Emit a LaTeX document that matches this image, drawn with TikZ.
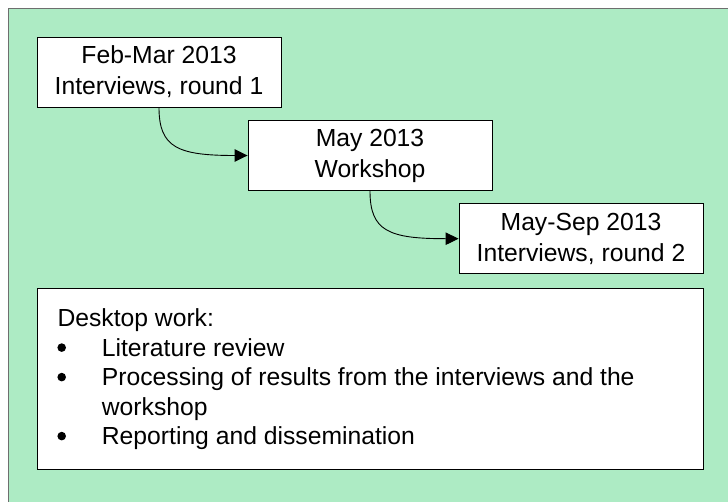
\documentclass[tikz,border=0pt]{standalone}
\usepackage{fontspec}
\setmainfont{Liberation Sans}
\usetikzlibrary{arrows.meta}
\definecolor{panelgreen}{RGB}{173,235,196}
\definecolor{framegray}{RGB}{110,110,110}
\begin{document}
\begin{tikzpicture}[x=1pt,y=-1pt,
  stagebox/.style={draw=black, line width=0.9pt, fill=white, minimum width=244pt,
    minimum height=70pt, inner sep=0pt, align=center,
    font=\fontsize{24.7}{31}\selectfont},
  flow/.style={draw=black, line width=0.9pt, -{Triangle[length=13pt,width=12.5pt]}},
  listline/.style={anchor=base west, inner sep=0pt, font=\fontsize{24.7}{29.5}\selectfont},
  listdot/.style={fill=black}]
  \useasboundingbox (0,0) rectangle (728,501);
  \clip (0,0) rectangle (728,501);
  % green panel running past the page edges
  \fill[panelgreen] (8.5,8.5) rectangle (760,540);
  \draw[framegray, line width=1.8pt] (760,8.5) -- (8.5,8.5) -- (8.5,540);

  % stages
  \node[stagebox] (s1) at (159,72) {Feb-Mar 2013\\Interviews, round 1};
  \node[stagebox] (s2) at (370,155.5) {May 2013\\Workshop};
  \node[stagebox] (s3) at (581,238.7) {May-Sep 2013\\Interviews, round 2};

  \draw[flow] (s1.south) .. controls +(0,40) and +(-70,0) .. (s2.west);
  \draw[flow] (s2.south) .. controls +(0,40) and +(-70,0) .. (s3.west);

  % desktop work panel
  \node[draw=black, line width=0.9pt, fill=white, anchor=north west,
    minimum width=666pt, minimum height=181pt, inner sep=0pt] (desk) at (37,288.3) {};
  \node[listline] (d0) at (57.3,326.7) {Desktop work:};
  \node[listline] (d1) at (101.7,356.2) {Literature review};
  \node[listline] (d2) at (101.7,385.7) {Processing of results from the interviews and the};
  \node[listline] (d3) at (101.7,415.2) {workshop};
  \node[listline] (d4) at (101.7,444.7) {Reporting and dissemination};
  % list bullets
  \fill[listdot] (61.7,347.6) circle (4.3pt);
  \fill[listdot] (61.7,377.1) circle (4.3pt);
  \fill[listdot] (61.7,436.1) circle (4.3pt);
\end{tikzpicture}
\end{document}
